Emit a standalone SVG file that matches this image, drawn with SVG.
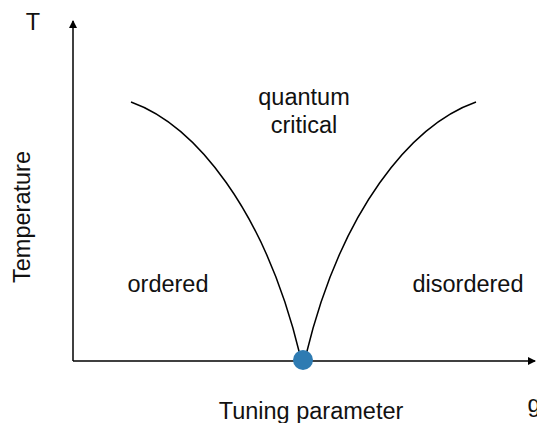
<svg xmlns="http://www.w3.org/2000/svg" width="537" height="423" viewBox="0 0 537 423">
<style>
text{font-family:"Liberation Sans",Arial,sans-serif;font-size:23.5px;fill:#111;}
.ax{stroke:#000;stroke-width:1.5;fill:none}
.cv{stroke:#000;stroke-width:1.5;fill:none}
</style>
<defs>
<marker id="ah" markerWidth="8" markerHeight="8" refX="7" refY="4" orient="auto" markerUnits="userSpaceOnUse">
<path d="M0,0 L8,4 L0,8 Z" fill="#000"/>
</marker>
</defs>
<rect width="537" height="423" fill="#fff"/>
<g id="connectors">
<line class="ax" x1="73" y1="361" x2="73" y2="21" marker-end="url(#ah)"/>
<line class="ax" x1="73" y1="361" x2="535" y2="361" marker-end="url(#ah)"/>
<path class="cv" d="M131,102 C195,125 265,210 300,355"/>
<path class="cv" d="M306,355 C341,210 411,125 476,102"/>
</g>
<g id="critical-point"><circle cx="303" cy="360" r="10" fill="#2e7bb2"/></g>
<g id="labels">
<text x="33" y="30" text-anchor="middle">T</text>
<text x="534" y="412" text-anchor="middle">g</text>
<text x="311" y="419" text-anchor="middle">Tuning parameter</text>
<text transform="translate(30,217) rotate(-90)" text-anchor="middle">Temperature</text>
<text x="304" y="105" text-anchor="middle">quantum</text>
<text x="304" y="133" text-anchor="middle">critical</text>
<text x="168" y="292" text-anchor="middle">ordered</text>
<text x="468" y="292" text-anchor="middle">disordered</text>
</g>
</svg>
